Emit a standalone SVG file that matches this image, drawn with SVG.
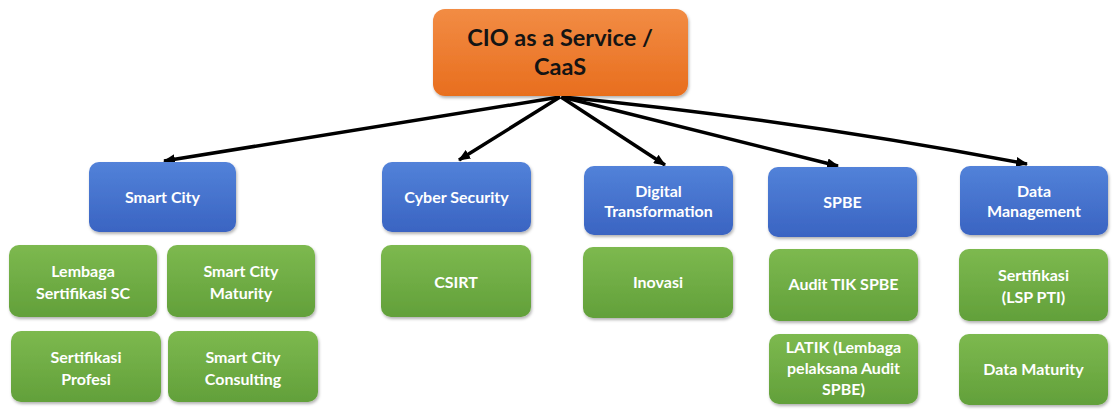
<svg xmlns="http://www.w3.org/2000/svg" width="1116" height="411" viewBox="0 0 1116 411">
  <defs>
    <linearGradient id="gOrange" x1="0" y1="0" x2="0" y2="1">
      <stop offset="0" stop-color="#F28C44"/>
      <stop offset="1" stop-color="#E86E1E"/>
    </linearGradient>
    <linearGradient id="gBlue" x1="0" y1="0" x2="0" y2="1">
      <stop offset="0" stop-color="#5282D9"/>
      <stop offset="1" stop-color="#3A64C2"/>
    </linearGradient>
    <linearGradient id="gGreen" x1="0" y1="0" x2="0" y2="1">
      <stop offset="0" stop-color="#7DB94F"/>
      <stop offset="1" stop-color="#62A03A"/>
    </linearGradient>
    <filter id="shadow" x="-10%" y="-10%" width="120%" height="130%">
      <feDropShadow dx="1" dy="2" stdDeviation="1.5" flood-color="#000" flood-opacity="0.3"/>
    </filter>
    <marker id="arrow" viewBox="0 0 12 10" refX="11" refY="5" markerWidth="12" markerHeight="10" markerUnits="userSpaceOnUse" orient="auto">
      <path d="M0,0 L12,5 L0,10 Z" fill="#000"/>
    </marker>
  </defs>
  <style>
    .box { filter: url(#shadow); }
    .root { fill: url(#gOrange); }
    .blue { fill: url(#gBlue); }
    .green { fill: url(#gGreen); }
    text { font-family: Lato, "Open Sans", "Liberation Sans", sans-serif; font-weight: bold; text-anchor: middle; }
    .rt { font-size: 23.5px; fill: #141414; }
    .lt { font-size: 16px; fill: #ffffff; }
    .conn { stroke: #000; stroke-width: 3.5; fill: none; marker-end: url(#arrow); }
  </style>
  <rect width="1116" height="411" fill="#ffffff"/>

  <g id="connectors">
    <path class="conn" d="M560,97 L164,161"/>
    <path class="conn" d="M560,97 L459,160"/>
    <path class="conn" d="M561,97 L665,165"/>
    <path class="conn" d="M562,97 L838,166"/>
    <path class="conn" d="M563,97 Q796,120 1027,164"/>
  </g>

  <g id="root">
    <rect class="box root" x="433" y="9" width="255" height="87" rx="12"/>
    <text class="rt" x="560" y="46">CIO as a Service /</text>
    <text class="rt" x="560" y="75">CaaS</text>
  </g>

  <g id="smart-city">
    <rect class="box blue" x="89" y="162" width="147" height="70" rx="10"/>
    <text class="lt" x="162.5" y="203">Smart City</text>
  </g>
  <g id="cyber-security">
    <rect class="box blue" x="382" y="162" width="149" height="70" rx="10"/>
    <text class="lt" x="456.5" y="203">Cyber Security</text>
  </g>
  <g id="digital-transformation">
    <rect class="box blue" x="584" y="166" width="149" height="69" rx="10"/>
    <text class="lt" x="658.5" y="197">Digital</text>
    <text class="lt" x="658.5" y="217">Transformation</text>
  </g>
  <g id="spbe">
    <rect class="box blue" x="768" y="167" width="149" height="70" rx="10"/>
    <text class="lt" x="842.5" y="208">SPBE</text>
  </g>
  <g id="data-management">
    <rect class="box blue" x="960" y="166" width="148" height="69" rx="10"/>
    <text class="lt" x="1034" y="197">Data</text>
    <text class="lt" x="1034" y="217">Management</text>
  </g>

  <g id="lembaga-sertifikasi-sc">
    <rect class="box green" x="9" y="245" width="148" height="72" rx="10"/>
    <text class="lt" x="83" y="277">Lembaga</text>
    <text class="lt" x="83" y="299">Sertifikasi SC</text>
  </g>
  <g id="smart-city-maturity">
    <rect class="box green" x="167" y="245" width="148" height="72" rx="10"/>
    <text class="lt" x="241" y="277">Smart City</text>
    <text class="lt" x="241" y="299">Maturity</text>
  </g>
  <g id="sertifikasi-profesi">
    <rect class="box green" x="11" y="331" width="150" height="71" rx="10"/>
    <text class="lt" x="86" y="363">Sertifikasi</text>
    <text class="lt" x="86" y="385">Profesi</text>
  </g>
  <g id="smart-city-consulting">
    <rect class="box green" x="168" y="331" width="150" height="71" rx="10"/>
    <text class="lt" x="243" y="363">Smart City</text>
    <text class="lt" x="243" y="385">Consulting</text>
  </g>
  <g id="csirt">
    <rect class="box green" x="381" y="245" width="150" height="72" rx="10"/>
    <text class="lt" x="456" y="288">CSIRT</text>
  </g>
  <g id="inovasi">
    <rect class="box green" x="583" y="247" width="150" height="71" rx="10"/>
    <text class="lt" x="658" y="288">Inovasi</text>
  </g>
  <g id="audit-tik-spbe">
    <rect class="box green" x="769" y="249" width="149" height="72" rx="10"/>
    <text class="lt" x="843.5" y="290">Audit TIK SPBE</text>
  </g>
  <g id="latik">
    <rect class="box green" x="769" y="334" width="149" height="70" rx="10"/>
    <text class="lt" x="843.5" y="353">LATIK (Lembaga</text>
    <text class="lt" x="843.5" y="374">pelaksana Audit</text>
    <text class="lt" x="843.5" y="395">SPBE)</text>
  </g>
  <g id="sertifikasi-lsp-pti">
    <rect class="box green" x="959" y="249" width="149" height="72" rx="10"/>
    <text class="lt" x="1033.5" y="281">Sertifikasi</text>
    <text class="lt" x="1033.5" y="303">(LSP PTI)</text>
  </g>
  <g id="data-maturity">
    <rect class="box green" x="959" y="334" width="149" height="71" rx="10"/>
    <text class="lt" x="1033.5" y="375">Data Maturity</text>
  </g>
</svg>
